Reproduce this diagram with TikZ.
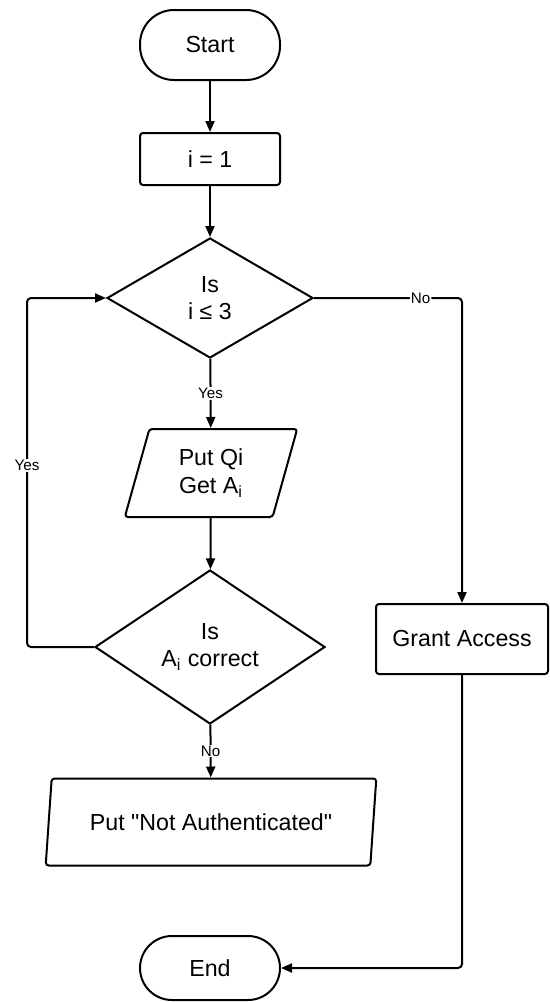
\documentclass[tikz,border=0pt]{standalone}
\usepackage{fontspec}
\setmainfont{Liberation Sans}[Ligatures=TeXOff]
\usetikzlibrary{shapes.geometric,arrows.meta}
\begin{document}
\begin{tikzpicture}[x=0.5pt,y=-0.5pt,
  every node/.style={font=\fontsize{11.6}{13.8}\selectfont, align=center, line width=1pt, inner sep=0pt},
  term/.style={draw, rounded corners=17pt, minimum width=70pt, minimum height=35pt},
  procbox/.style={draw, rounded corners=1.5pt, minimum width=70pt, minimum height=26pt},
  decision/.style={draw, diamond},
  io/.style={draw, trapezium, trapezium left angle=75, trapezium right angle=105, trapezium stretches=true, rounded corners=1.5pt},
  arr/.style={line width=1pt, -{Triangle[length=5.5pt,width=4.5pt]}},
  lbl/.style={fill=white, font=\fontsize{7.6}{9}\selectfont, inner sep=0.5pt}
]
\useasboundingbox (0,0) rectangle (550,1002);
\node[term] (start) at (210,45) {Start};
\node[procbox] (init) at (210,159) {i = 1};
\node[decision, minimum width=103pt, minimum height=60pt] (d1) at (210,298) {Is\\i ≤ 3};
\node[io, minimum width=86.5pt, minimum height=44pt] (p1) at (211,473) {Put Qi\\Get A\textsubscript{i}};
\node[decision, minimum width=115pt, minimum height=77pt] (d2) at (210,647) {Is\\A\textsubscript{i} correct};
\node[procbox, minimum width=86pt, minimum height=35pt] (grant) at (462,639) {Grant Access};
\node[io, minimum width=165.5pt, minimum height=43.5pt] (p2) at (211,822) {Put "Not Authenticated"};
\node[term, minimum height=32pt, rounded corners=16pt] (end) at (210,968) {End};
\coordinate (loop) at (27,647);

\draw[arr] (start) -- (init);
\draw[arr] (init) -- (d1);
\draw[arr] (d1) -- node[lbl]{Yes} (p1);
\draw[arr] (p1) -- (d2);
\draw[arr] (d2) -- node[lbl]{No} (p2);
\draw[arr, rounded corners=2pt] (d2.west) -- (loop) |- node[lbl, pos=0.26]{Yes} (d1.west);
\draw[arr, rounded corners=2pt] (d1.east) -| node[lbl, pos=0.36]{No} (grant.north);
\draw[arr, rounded corners=2pt] (grant.south) |- (end.east);
\end{tikzpicture}
\end{document}
